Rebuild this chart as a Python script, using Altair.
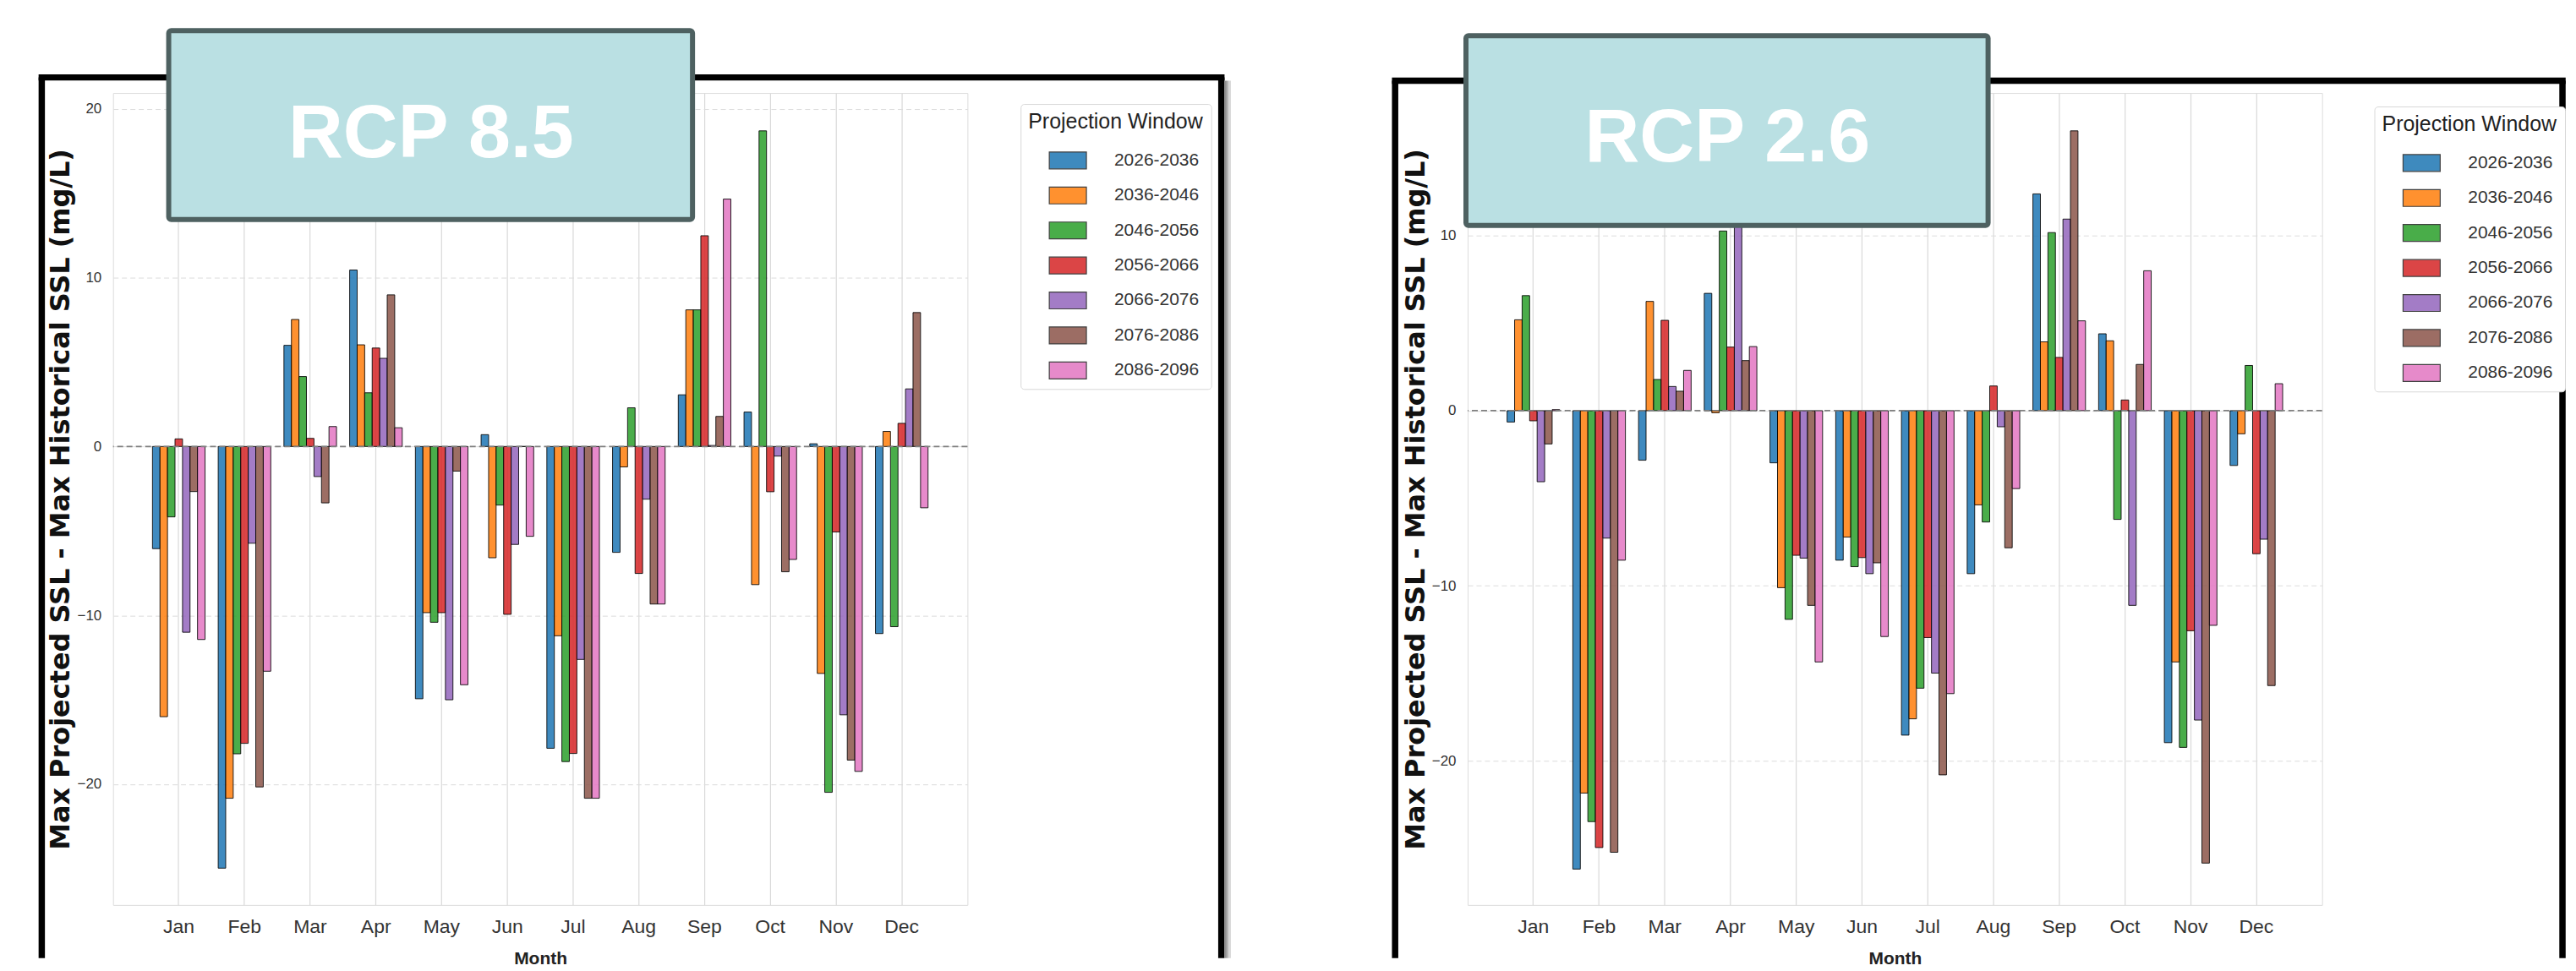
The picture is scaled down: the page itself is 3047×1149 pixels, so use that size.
import altair as alt
import pandas as pd

MONTHS = ["Jan", "Feb", "Mar", "Apr", "May", "Jun", "Jul", "Aug", "Sep", "Oct", "Nov", "Dec"]
WINDOWS = ["2026-2036", "2036-2046", "2046-2056", "2056-2066", "2066-2076", "2076-2086", "2086-2096"]
COLORS = ["#1f77b4", "#ff7f0e", "#2ca02c", "#d62728", "#9467bd", "#8c564b", "#e377c2"]

# RCP 8.5 : Max projected SSL - max historical SSL (mg/L), per projection window, Jan..Dec
rcp85_2026 = [-6.05, -24.97, 5.99, 10.45, -14.94, 0.70, -17.87, -6.27, 3.06, 2.04, 0.16, -11.08]
rcp85_2036 = [-16.0, -20.83, 7.52, 6.02, -9.84, -6.59, -11.21, -1.21, 8.09, -8.18, -13.44, 0.89]
rcp85_2046 = [-4.17, -18.2, 4.14, 3.18, -10.41, -3.47, -18.66, 2.29, 8.09, 18.69, -20.48, -10.67]
rcp85_2056 = [0.45, -17.58, 0.48, 5.83, -9.84, -9.94, -18.18, -7.52, 12.48, -2.68, -5.06, 1.37]
rcp85_2066 = [-11.0, -5.73, -1.78, 5.22, -15.0, -5.8, -12.61, -3.12, 0.06, -0.57, -15.89, 3.41]
rcp85_2076 = [-2.67, -20.16, -3.34, 8.98, -1.46, 0.0, -20.83, -9.33, 1.78, -7.42, -18.57, 7.93]
rcp85_2086 = [-11.43, -13.31, 1.18, 1.11, -14.11, -5.32, -20.83, -9.33, 14.65, -6.69, -19.24, -3.63]

# RCP 2.6
rcp26_2026 = [-0.65, -26.18, -2.83, 6.7, -2.98, -8.54, -18.53, -9.31, 12.38, 4.39, -18.96, -3.13]
rcp26_2036 = [5.19, -21.84, 6.24, -0.12, -10.11, -7.22, -17.6, -5.38, 3.93, 3.99, -14.35, -1.32]
rcp26_2046 = [6.57, -23.47, 1.78, 10.26, -11.92, -8.91, -15.85, -6.36, 10.17, -6.21, -19.23, 2.58]
rcp26_2056 = [-0.58, -24.95, 5.16, 3.63, -8.26, -8.39, -12.96, 1.41, 3.04, 0.61, -12.57, -8.17]
rcp26_2066 = [-4.06, -7.28, 1.38, 11.5, -8.42, -9.31, -14.99, -0.92, 10.94, -11.12, -17.67, -7.34]
rcp26_2076 = [-1.9, -25.22, 1.11, 2.86, -11.12, -8.69, -20.8, -7.83, 15.98, 2.64, -25.84, -15.7]
rcp26_2086 = [0.06, -8.54, 2.3, 3.66, -14.35, -12.9, -16.16, -4.45, 5.13, 7.99, -12.26, 1.54]

RCP85 = [rcp85_2026, rcp85_2036, rcp85_2046, rcp85_2056, rcp85_2066, rcp85_2076, rcp85_2086]
RCP26 = [rcp26_2026, rcp26_2036, rcp26_2046, rcp26_2056, rcp26_2066, rcp26_2076, rcp26_2086]

YTITLE = "Max Projected SSL - Max Historical SSL (mg/L)"
SANS = "'Liberation Sans', Arial, Helvetica, sans-serif"
W, H = 1013, 963


def to_df(series):
    rows = []
    for w, vals in zip(WINDOWS, series):
        for m, v in zip(MONTHS, vals):
            rows.append({"Month": m, "Window": w, "Value": v})
    return pd.DataFrame(rows)


def panel(series, ydomain, label, box, text_xy, frame, legend_xy, shadow):
    df = to_df(series)
    one = pd.DataFrame({"z": [0]})
    bars = alt.Chart(df).mark_bar(
        stroke="black", strokeWidth=1, fillOpacity=0.86, strokeOpacity=0.85
    ).encode(
        x=alt.X("Month:N", sort=MONTHS,
                scale=alt.Scale(paddingInner=0.2, paddingOuter=0.6),
                axis=alt.Axis(title="Month", labelAngle=0, bandPosition=0.5, grid=True,
                              gridColor="#D9D9D9", gridWidth=1.2, domain=False, ticks=False,
                              labelFont=SANS, labelFontSize=23, labelColor="#333333",
                              labelPadding=15, titleFont=SANS, titleFontSize=21,
                              titleFontWeight="bold", titleColor="#222222", titlePadding=15)),
        xOffset=alt.XOffset("Window:N", sort=WINDOWS,
                            scale=alt.Scale(paddingInner=0, paddingOuter=0)),
        y=alt.Y("Value:Q", stack=None,
                scale=alt.Scale(domain=ydomain, nice=False, zero=False),
                axis=alt.Axis(title=YTITLE, values=[-20, -10, 0, 10, 20], grid=True,
                              gridDash=[6, 4], gridColor="#DCDCDC", gridWidth=1,
                              domain=False, ticks=False, labelFont=SANS, labelFontSize=17,
                              labelColor="#333333", labelPadding=14,
                              titleFont="DejaVu Sans", titleFontSize=32, titleFontWeight="bold",
                              titleColor="#111111", titleX=-45, titleY=H / 2, titleAngle=270,
                              titleBaseline="bottom", titleAlign="center")),
        y2=alt.datum(0),
        color=alt.Color("Window:N", sort=WINDOWS,
                        scale=alt.Scale(domain=WINDOWS, range=COLORS),
                        legend=alt.Legend(title="Projection Window", orient="none",
                                          legendX=legend_xy[0], legendY=legend_xy[1],
                                          symbolType="M-1,-0.4545H1V0.4545H-1Z", symbolSize=1936,
                                          symbolStrokeColor="#222222", symbolStrokeWidth=1.2,
                                          symbolOpacity=0.86, symbolOffset=24, labelOffset=32,
                                          rowPadding=5.5, labelFont=SANS, labelFontSize=21,
                                          labelColor="#333333", titleFont=SANS,
                                          titleFontSize=25, titleFontWeight="normal",
                                          titleColor="#222222", titlePadding=10, padding=9,
                                          strokeColor="#D8D8D8", fillColor="white",
                                          cornerRadius=4, labelLimit=300, titleLimit=400)),
    )
    zero = alt.Chart(one).mark_rule(color="#7f7f7f", strokeDash=[7, 4], strokeWidth=1.8).encode(
        y=alt.Y("z:Q")
    )
    fl, ft, fr, fb = frame
    frame_top = alt.Chart(one).mark_rule(color="black", strokeWidth=7.5).encode(
        x=alt.value(fl - 3.75), x2=alt.value(fr + 3.75), y=alt.value(ft))
    frame_left = alt.Chart(one).mark_rule(color="black", strokeWidth=7.5).encode(
        x=alt.value(fl), y=alt.value(ft), y2=alt.value(fb))
    frame_right = alt.Chart(one).mark_rule(color="black", strokeWidth=7.5).encode(
        x=alt.value(fr), y=alt.value(ft), y2=alt.value(fb))
    layers = [bars, zero, frame_top, frame_left, frame_right]
    if shadow:
        for dx, col in [(5, "#8f8f8f"), (7.5, "#b3b3b3"), (10, "#d6d6d6")]:
            layers.append(alt.Chart(one).mark_rule(color=col, strokeWidth=2.5).encode(
                x=alt.value(fr + dx), y=alt.value(ft + 4), y2=alt.value(fb)))
    bx, bx2, by, by2 = box
    rect = alt.Chart(one).mark_rect(fill="#BAE0E3", stroke="#4E6161", strokeWidth=6,
                                    cornerRadius=3).encode(
        x=alt.value(bx), x2=alt.value(bx2), y=alt.value(by), y2=alt.value(by2))
    txt = alt.Chart(one).mark_text(text=label, font=SANS, fontSize=90, fontWeight="bold",
                                   color="white", align="center", baseline="alphabetic").encode(
        x=alt.value(text_xy[0]), y=alt.value(text_xy[1]))
    layers += [rect, txt]
    return alt.layer(*layers).properties(width=W, height=H)


left = panel(RCP85, [-27.15, 20.93], "RCP 8.5", (66, 687, -74, 150), (377, 76),
             (-84.5, -18.5, 1314, 1026), (1076, 13), True)
right = panel(RCP26, [-28.23, 18.14], "RCP 2.6", (-2, 617, -68, 157), (308, 81),
              (-86, -14.5, 1298, 1026), (1075, 16), False)

chart = alt.hconcat(left, right, spacing=593, bounds="flush").resolve_scale(
    color="independent", y="independent", x="independent"
).resolve_legend(color="independent").properties(
    padding={"left": 33, "top": 23, "right": 0, "bottom": 0}
).configure_view(fill="#F8F8F8", stroke="#D4D4D4", strokeWidth=1.5).configure(background="white")

chart.save("out.html", embed_options={"renderer": "svg", "actions": False})
